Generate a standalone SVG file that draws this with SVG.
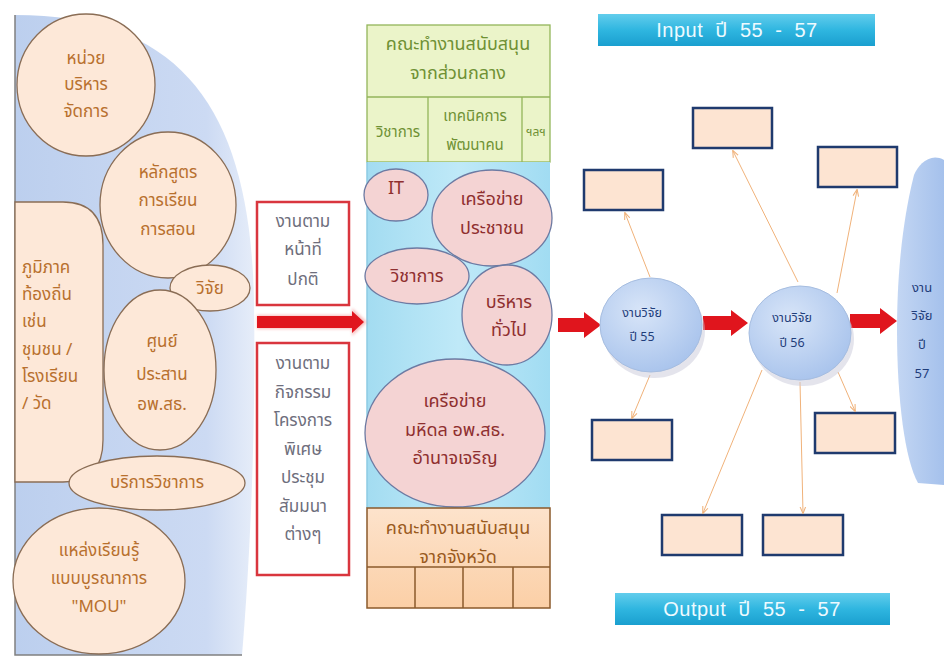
<svg xmlns="http://www.w3.org/2000/svg" width="944" height="662" viewBox="0 0 944 662">
<defs>
<linearGradient id="gLeft" x1="0" y1="0" x2="1" y2="0">
<stop offset="0" stop-color="#bccfee"/><stop offset="0.8" stop-color="#ccdaf3"/><stop offset="1" stop-color="#e6edf9"/>
</linearGradient>
<linearGradient id="gCyan" x1="0" y1="0" x2="1" y2="0">
<stop offset="0" stop-color="#a3dcf1"/><stop offset="0.5" stop-color="#bfe9f8"/><stop offset="1" stop-color="#a1dcf2"/>
</linearGradient>
<linearGradient id="gOrange" x1="0" y1="0" x2="0" y2="1">
<stop offset="0" stop-color="#fde3cc"/><stop offset="1" stop-color="#fbcfa6"/>
</linearGradient>
<linearGradient id="gBanner" x1="0" y1="0" x2="0" y2="1">
<stop offset="0" stop-color="#62cdec"/><stop offset="0.5" stop-color="#2fb6e0"/><stop offset="1" stop-color="#1a9fcf"/>
</linearGradient>
<radialGradient id="gBlue" cx="0.4" cy="0.35" r="0.7">
<stop offset="0" stop-color="#d8e5f8"/><stop offset="1" stop-color="#a8c3ec"/>
</radialGradient>
<linearGradient id="gRight" x1="0" y1="0" x2="1" y2="0">
<stop offset="0" stop-color="#c3d6f3"/><stop offset="1" stop-color="#a5c1ec"/>
</linearGradient>
<filter id="glow" x="-20%" y="-40%" width="140%" height="180%">
<feGaussianBlur stdDeviation="1.5"/>
</filter>
<marker id="ah" viewBox="0 0 10 10" refX="9" refY="5" markerWidth="7" markerHeight="7" orient="auto">
<path d="M0,1 L10,5 L0,9" fill="none" stroke="#f0b27a" stroke-width="1.5"/>
</marker>
<style>
.th{font-family:"Noto Sans Thai","Leelawadee UI","Tahoma","DejaVu Sans","Noto Sans",sans-serif;text-anchor:middle;dominant-baseline:central}
.st{text-anchor:start}
.peach{fill:#fde8d8;stroke:#8a6d55;stroke-width:1.3}
.lt{font-size:17px;fill:#b8702e}
.red{fill:#ffffff;stroke:#d9363e;stroke-width:2.5}
.rt{font-size:17px;fill:#6e6e7c}
.green{fill:#ebf4c9;stroke:#93b55a;stroke-width:1.3}
.gt{font-size:18px;fill:#6f9134}
.g2{font-size:15px}
.pink{fill:#f4d3d3;stroke:#6d7aa2;stroke-width:1.3}
.pt{font-size:18px;fill:#8f2f2f}
.org{stroke:#8b5a2b;stroke-width:1.5}
.ot{font-size:18px;fill:#9a5a1e}
.box{fill:#fde4d2;stroke:#1f3a6e;stroke-width:2.5}
.blue{fill:url(#gBlue);stroke:#a6bde0;stroke-width:1}
.bt{font-size:12.5px;fill:#1f3d7a}
.ban{font-family:"Liberation Sans","Noto Sans Thai",sans-serif;font-size:20px;fill:#eefaff;text-anchor:middle;dominant-baseline:central;word-spacing:6px;letter-spacing:0.5px}
.arr{fill:#e0151d}
.conn{stroke:#f0b27a;stroke-width:1;fill:none;marker-end:url(#ah)}
</style>
</defs>
<rect width="944" height="662" fill="#ffffff"/>

<g id="left-panel">
<path d="M15,15 C190,15 250,120 254,300 C256,430 250,560 242,655 L15,655 Z" fill="url(#gLeft)"/>
<path d="M15,15 L15,655 L242,655" fill="none" stroke="#808080" stroke-width="1.5"/>
</g>
<g id="n-local">
<path d="M15,202 L63,202 Q103,202 103,245 L103,440 Q103,482 63,482 L15,482 Z" class="peach"/>
<text class="th lt st" x="22" y="268">ภูมิภาค</text>
<text class="th lt st" x="22" y="295">ท้องถิ่น</text>
<text class="th lt st" x="22" y="322">เช่น</text>
<text class="th lt st" x="22" y="350">ชุมชน /</text>
<text class="th lt st" x="22" y="377">โรงเรียน</text>
<text class="th lt st" x="22" y="404">/ วัด</text>
</g>
<g id="n-unit">
<ellipse cx="86" cy="85" rx="69" ry="71" class="peach"/>
<text class="th lt" x="86" y="59">หน่วย</text>
<text class="th lt" x="86" y="85">บริหาร</text>
<text class="th lt" x="86" y="112">จัดการ</text>
</g>
<g id="n-course">
<ellipse cx="168" cy="205" rx="68" ry="73" class="peach"/>
<text class="th lt" x="168" y="173">หลักสูตร</text>
<text class="th lt" x="168" y="201">การเรียน</text>
<text class="th lt" x="168" y="230">การสอน</text>
</g>
<g id="n-research">
<ellipse cx="210" cy="288" rx="40" ry="23" class="peach"/>
<text class="th lt" x="210" y="289">วิจัย</text>
</g>
<g id="n-center">
<ellipse cx="160" cy="370" rx="56" ry="80" class="peach"/>
<text class="th lt" x="162" y="342">ศูนย์</text>
<text class="th lt" x="162" y="375">ประสาน</text>
<text class="th lt" x="162" y="405">อพ.สธ.</text>
</g>
<g id="n-service">
<ellipse cx="157" cy="483" rx="88" ry="27" class="peach"/>
<text class="th lt" x="157" y="483">บริการวิชาการ</text>
</g>
<g id="n-mou">
<ellipse cx="99" cy="581" rx="86" ry="73" class="peach"/>
<text class="th lt" x="99" y="551">แหล่งเรียนรู้</text>
<text class="th lt" x="99" y="579">แบบบูรณาการ</text>
<text class="th lt" x="99" y="607">"MOU"</text>
</g>

<g id="n-routine">
<rect x="257" y="202" width="92" height="103" class="red"/>
<text class="th rt" x="303" y="222">งานตาม</text>
<text class="th rt" x="303" y="250">หน้าที่</text>
<text class="th rt" x="303" y="280">ปกติ</text>
</g>
<g id="n-activity">
<rect x="257" y="343" width="92" height="232" class="red"/>
<text class="th rt" x="303" y="364">งานตาม</text>
<text class="th rt" x="303" y="393">กิจกรรม</text>
<text class="th rt" x="303" y="421">โครงการ</text>
<text class="th rt" x="303" y="450">พิเศษ</text>
<text class="th rt" x="303" y="478">ประชุม</text>
<text class="th rt" x="303" y="507">สัมมนา</text>
<text class="th rt" x="303" y="535">ต่างๆ</text>
</g>

<g id="n-central">
<rect x="367" y="25" width="183" height="137" class="green"/>
<line x1="367" y1="97" x2="550" y2="97" stroke="#93b55a" stroke-width="1.3"/>
<line x1="428" y1="97" x2="428" y2="162" stroke="#93b55a" stroke-width="1.3"/>
<line x1="522" y1="97" x2="522" y2="162" stroke="#93b55a" stroke-width="1.3"/>
<text class="th gt" x="458" y="44">คณะทำงานสนับสนุน</text>
<text class="th gt" x="458" y="73">จากส่วนกลาง</text>
<text class="th gt g2" x="398" y="132">วิชาการ</text>
<text class="th gt g2" x="475" y="116">เทคนิคการ</text>
<text class="th gt g2" x="475" y="145">พัฒนาคน</text>
<text class="th gt" x="536" y="132" style="font-size:12px">ฯลฯ</text>
</g>
<g id="mid-area">
<rect x="367" y="162" width="183" height="346" fill="url(#gCyan)"/>
<line x1="367" y1="162" x2="367" y2="508" stroke="#8ccbe3" stroke-width="1.5"/>
</g>
<g id="n-it">
<ellipse cx="396" cy="195" rx="32" ry="26" class="pink"/>
<text class="th pt" x="396" y="188">IT</text>
</g>
<g id="n-people">
<ellipse cx="492" cy="218" rx="60" ry="48" class="pink"/>
<text class="th pt" x="492" y="199">เครือข่าย</text>
<text class="th pt" x="492" y="228">ประชาชน</text>
</g>
<g id="n-academic">
<ellipse cx="417" cy="276" rx="52" ry="28" class="pink"/>
<text class="th pt" x="417" y="276">วิชาการ</text>
</g>
<g id="n-admin">
<ellipse cx="507" cy="315" rx="45" ry="50" class="pink"/>
<text class="th pt" x="509" y="302">บริหาร</text>
<text class="th pt" x="509" y="330">ทั่วไป</text>
</g>
<g id="n-network">
<ellipse cx="455" cy="433" rx="90" ry="74" class="pink"/>
<text class="th pt" x="455" y="401">เครือข่าย</text>
<text class="th pt" x="455" y="430">มหิดล อพ.สธ.</text>
<text class="th pt" x="455" y="458">อำนาจเจริญ</text>
</g>
<g id="n-province">
<rect x="367" y="508" width="183" height="100" fill="url(#gOrange)" class="org"/>
<line x1="367" y1="567" x2="550" y2="567" class="org"/>
<line x1="415" y1="567" x2="415" y2="608" class="org"/>
<line x1="463" y1="567" x2="463" y2="608" class="org"/>
<line x1="513" y1="567" x2="513" y2="608" class="org"/>
<text class="th ot" x="458" y="528">คณะทำงานสนับสนุน</text>
<text class="th ot" x="458" y="557">จากจังหวัด</text>
</g>

<g id="n-input">
<rect x="598" y="14" width="277" height="32" fill="url(#gBanner)"/>
<text class="ban" x="737" y="30">Input ปี 55 - 57</text>
</g>
<g id="n-output">
<rect x="615" y="593" width="275" height="32" fill="url(#gBanner)"/>
<text class="ban" x="752" y="609">Output ปี 55 - 57</text>
</g>

<g id="boxes">
<rect id="b1" x="584" y="170" width="79" height="40" class="box"/>
<rect id="b2" x="693" y="108" width="79" height="40" class="box"/>
<rect id="b3" x="818" y="147" width="79" height="40" class="box"/>
<rect id="b4" x="592" y="420" width="80" height="40" class="box"/>
<rect id="b5" x="815" y="413" width="80" height="40" class="box"/>
<rect id="b6" x="662" y="515" width="80" height="40" class="box"/>
<rect id="b7" x="763" y="515" width="80" height="40" class="box"/>
</g>

<g id="connectors">
<line x1="650" y1="277" x2="625" y2="213" class="conn"/>
<line x1="798" y1="282" x2="733" y2="151" class="conn"/>
<line x1="837" y1="293" x2="857" y2="190" class="conn"/>
<line x1="650" y1="375" x2="632" y2="418" class="conn"/>
<line x1="762" y1="370" x2="703" y2="513" class="conn"/>
<line x1="800" y1="382" x2="803" y2="513" class="conn"/>
<line x1="838" y1="372" x2="855" y2="411" class="conn"/>
<g filter="url(#glow)" opacity="0.5">
<polygon points="257,315 352,315 352,308 367,322 352,336 352,329 257,329" fill="#f08080"/>
</g>
<polygon class="arr" points="257,316 352,316 352,311 364,322 352,333 352,328 257,328"/>
<polygon class="arr" points="558,318 584,318 584,312 601,325 584,338 584,332 558,332"/>
<polygon class="arr" points="703,316 731,316 731,310 748,323 731,336 731,330 703,330"/>
<polygon class="arr" points="850,314 880,314 880,308 897,321 880,334 880,328 850,328"/>
</g>

<g id="n-r55">
<ellipse cx="652" cy="327" rx="51" ry="47" fill="#c9c9d9" opacity="0.5" transform="translate(2,4)"/>
<ellipse cx="651" cy="325" rx="51" ry="47" class="blue"/>
<text class="th bt" x="642" y="313">งานวิจัย</text>
<text class="th bt" x="642" y="337">ปี 55</text>
</g>
<g id="n-r56">
<ellipse cx="801" cy="335" rx="51" ry="47" fill="#c9c9d9" opacity="0.5" transform="translate(2,4)"/>
<ellipse cx="800" cy="333" rx="51" ry="47" class="blue"/>
<text class="th bt" x="792" y="318">งานวิจัย</text>
<text class="th bt" x="792" y="343">ปี 56</text>
</g>
<g id="n-r57">
<path d="M944,160 C930,152 918,165 914,175 C900,230 897,290 897,330 C897,400 905,460 918,483 L944,485 Z" fill="url(#gRight)"/>
<text class="th bt" x="922" y="288" style="font-size:13px">งาน</text>
<text class="th bt" x="922" y="316" style="font-size:13px">วิจัย</text>
<text class="th bt" x="922" y="345" style="font-size:13px">ปี</text>
<text class="th bt" x="922" y="374" style="font-size:13px">57</text>
</g>
</svg>
